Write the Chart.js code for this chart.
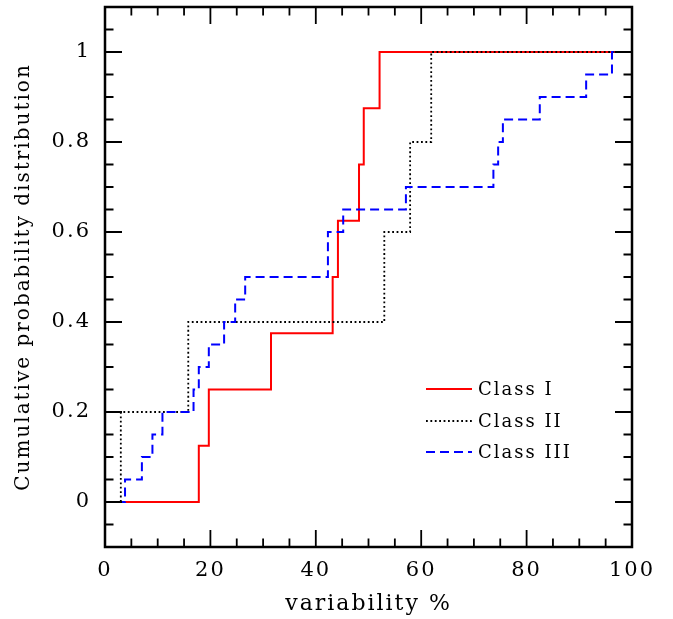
<!DOCTYPE html>
<html>
<head>
<meta charset="utf-8">
<script src="https://cdn.jsdelivr.net/npm/chart.js@4.4.1/dist/chart.umd.min.js"></script>
<style>
  html, body { margin: 0; padding: 0; background: #fff; }
</style>
</head>
<body>
<canvas id="myChart" width="673" height="619"></canvas>
<script>
// step positions (variability %) and cumulative level reached after each step
const class1X = [2.2, 17.8, 19.7, 31.5, 43.2, 44.2, 48.2, 49.1, 52.1, 100];
const class1Y = [0, 0.125, 0.25, 0.375, 0.5, 0.625, 0.75, 0.875, 1, 1];

const class2X = [2.2, 3.0, 15.8, 53.0, 57.9, 61.9, 100];
const class2Y = [0, 0.2, 0.4, 0.6, 0.8, 1, 1];

const class3X = [2.2, 3.8, 7.0, 9.0, 10.9, 16.8, 17.8, 19.7, 22.6, 24.7, 26.6, 42.3, 45.2, 57.1, 73.7, 74.6, 75.5, 82.5, 91.3, 96.2, 100];
const class3Y = [0, 0.05, 0.1, 0.15, 0.2, 0.25, 0.3, 0.35, 0.4, 0.45, 0.5, 0.6, 0.65, 0.7, 0.75, 0.8, 0.85, 0.9, 0.95, 1, 1];

const seriesNames = ['Class I', 'Class II', 'Class III'];

const xTickLabels = [0, 20, 40, 60, 80, 100];
const yTickLabels = [0, 0.2, 0.4, 0.6, 0.8, 1];

// minor ticks
let xMinor = [];
for (let v = 0; v <= 100; v += 5) xMinor.push(v);
let yMinor = [];
for (let i = -2; i <= 22; i++) yMinor.push(i * 0.05);

function toPoints(xs, ys) {
  return xs.map((v, i) => ({ x: v, y: ys[i] }));
}

const FONT = '"DejaVu Serif", serif';

const framePlugin = {
  id: 'frame',
  beforeDraw(chart) {
    chart.ctx.letterSpacing = '2px';
  },
  afterDatasetsDraw(chart) {
    const ctx = chart.ctx;
    const a = chart.chartArea;
    const x = chart.scales.x;
    const y = chart.scales.y;
    ctx.save();
    ctx.strokeStyle = '#000';
    ctx.lineWidth = 1.8;
    ctx.setLineDash([]);
    ctx.beginPath();
    xMinor.forEach(v => {
      const len = xTickLabels.includes(v) ? 17 : 8.5;
      const px = x.getPixelForValue(v);
      ctx.moveTo(px, a.bottom); ctx.lineTo(px, a.bottom - len);
      ctx.moveTo(px, a.top); ctx.lineTo(px, a.top + len);
    });
    yMinor.forEach(v => {
      const major = yTickLabels.some(t => Math.abs(t - v) < 1e-6);
      const len = major ? 17 : 8.5;
      const py = y.getPixelForValue(v);
      ctx.moveTo(a.left, py); ctx.lineTo(a.left + len, py);
      ctx.moveTo(a.right, py); ctx.lineTo(a.right - len, py);
    });
    ctx.stroke();
    ctx.lineWidth = 2.5;
    ctx.strokeRect(a.left, a.top, a.right - a.left, a.bottom - a.top);

    // legend inside the plot
    const rows = [389, 421, 452];
    ctx.font = '18px ' + FONT;
    ctx.textBaseline = 'middle';
    ctx.textAlign = 'left';
    ctx.fillStyle = '#000';
    chart.data.datasets.forEach((ds, i) => {
      ctx.strokeStyle = ds.borderColor;
      ctx.lineWidth = ds.borderWidth;
      ctx.setLineDash(ds.borderDash || []);
      ctx.beginPath();
      ctx.moveTo(426, rows[i]);
      ctx.lineTo(472, rows[i]);
      ctx.stroke();
      ctx.fillText(ds.label, 478, rows[i] + 1);
    });
    ctx.restore();
  }
};

let myChart = document.getElementById('myChart').getContext('2d');
let chart = new Chart(myChart, {
  type: 'scatter',
  data: {
    datasets: [{
      label: seriesNames[0],
      data: toPoints(class1X, class1Y),
      borderColor: '#ff0000',
      borderWidth: 2,
      order: 3
    },
    {
      label: seriesNames[1],
      data: toPoints(class2X, class2Y),
      borderColor: '#000000',
      borderWidth: 1.8,
      borderDash: [1.8, 2.6],
      order: 2
    },
    {
      label: seriesNames[2],
      data: toPoints(class3X, class3Y),
      borderColor: '#0000ff',
      borderWidth: 2,
      borderDash: [9, 5],
      order: 1
    }]
  },
  options: {
    responsive: false,
    animation: false,
    devicePixelRatio: 1,
    showLine: true,
    datasets: { scatter: { stepped: 'before', pointRadius: 0, pointHoverRadius: 0, fill: false } },
    layout: { padding: { top: 7, right: 41, left: 0, bottom: 0 } },
    plugins: { legend: { display: false }, tooltip: { enabled: false } },
    scales: {
      x: {
        type: 'linear', min: 0, max: 100,
        grid: { display: false, drawTicks: false },
        border: { display: false },
        afterBuildTicks: s => { s.ticks = xTickLabels.map(v => ({ value: v })); },
        afterFit: s => { s.height = 72; s.paddingLeft = 0; s.paddingRight = 0; },
        ticks: {
          autoSkip: false, maxRotation: 0, padding: 11, color: '#000',
          font: { family: FONT, size: 21 },
          callback: v => String(v)
        },
        title: {
          display: true, text: 'variability %', color: '#000',
          font: { family: FONT, size: 22 },
          padding: { top: 0, bottom: 2 }
        }
      },
      y: {
        type: 'linear', min: -0.1, max: 1.1,
        grid: { display: false, drawTicks: false },
        border: { display: false },
        afterBuildTicks: s => { s.ticks = yTickLabels.map(v => ({ value: v })); },
        afterFit: s => { s.width = 105; s.paddingTop = 0; s.paddingBottom = 0; },
        ticks: {
          autoSkip: false, padding: 14, color: '#000',
          font: { family: FONT, size: 21 },
          callback: v => String(v)
        },
        title: {
          display: true, text: 'Cumulative probability distribution', color: '#000',
          font: { family: FONT, size: 20 },
          padding: { top: 12, bottom: 0 }
        }
      }
    }
  },
  plugins: [framePlugin]
});
</script>
</body>
</html>
